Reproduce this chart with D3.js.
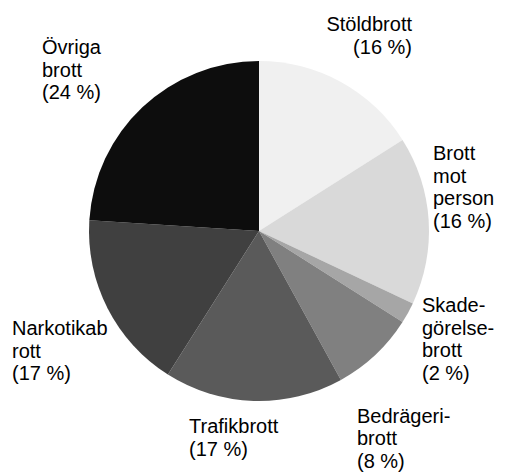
<!DOCTYPE html>
<html>
<head>
<meta charset="utf-8">
<script src="https://cdn.jsdelivr.net/npm/d3@7"></script>
<style>
  body { margin: 0; background: #fff; }
  text { font-family: "Liberation Sans", Arial, sans-serif; font-size: 20px; fill: #000; }
</style>
</head>
<body>
<div id="chart"></div>
<script>
// brottskategorier, medurs fran klockan tolv
const categories = ['Stöldbrott', 'Brott mot person', 'Skadegörelsebrott', 'Bedrägeribrott', 'Trafikbrott', 'Narkotikabrott', 'Övriga brott'];
const shares = [16, 16, 2, 8, 17, 17, 24];
const labelLines = [
  ['Stöldbrott', '(16 %)'],
  ['Brott', 'mot', 'person', '(16 %)'],
  ['Skade-', 'görelse-', 'brott', '(2 %)'],
  ['Bedrägeri-', 'brott', '(8 %)'],
  ['Trafikbrott', '(17 %)'],
  ['Narkotikab', 'rott', '(17 %)'],
  ['Övriga', 'brott', '(24 %)']
];
const greys = ['#f0f0f0', '#d9d9d9', '#a6a6a6', '#808080', '#5a5a5a', '#404040', '#0d0d0d'];

const width = 505, height = 473;
const cx = 259, cy = 231, radius = 170;
const lineH = 22.7;

// label anchor: x, first baseline, alignment
const labelPos = [
  [412, 31, 'end'],
  [433, 160, 'start'],
  [422, 312, 'start'],
  [357, 423, 'start'],
  [189, 433, 'start'],
  [12, 335, 'start'],
  [42, 54, 'start']
];

const data = categories.map((c, i) => ({ category: c, value: shares[i], lines: labelLines[i] }));

const color = d3.scaleOrdinal().domain(categories).range(greys);

const svg = d3.select('#chart').append('svg')
  .attr('width', width)
  .attr('height', height);

const pie = d3.pie().sort(null).value((d) => d.value);
const arc = d3.arc().innerRadius(0).outerRadius(radius);

const g = svg.append('g')
  .attr('transform', 'translate(' + cx + ',' + cy + ')');

g.selectAll('path')
  .data(pie(data))
  .enter().append('path')
  .attr('d', arc)
  .attr('fill', (d) => color(d.data.category));

const labels = svg.selectAll('.label')
  .data(data)
  .enter().append('text')
  .attr('class', 'label')
  .attr('text-anchor', (d, i) => labelPos[i][2]);

labels.each(function (d, i) {
  const t = d3.select(this);
  d.lines.forEach((line, j) => {
    t.append('tspan')
      .attr('x', labelPos[i][0])
      .attr('y', labelPos[i][1] + j * (i === 3 ? 22.3 : lineH))
      .text(line);
  });
});
</script>
</body>
</html>
